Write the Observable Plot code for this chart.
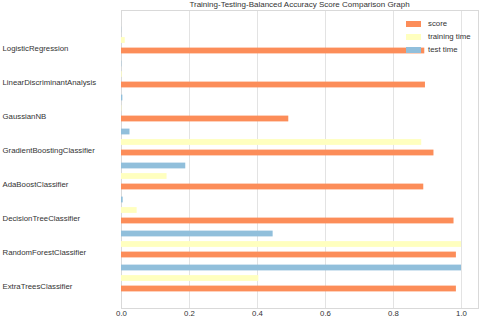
<!DOCTYPE html>
<html><head><meta charset="utf-8">
<script src="https://cdn.jsdelivr.net/npm/d3@7"></script>
<script src="https://cdn.jsdelivr.net/npm/@observablehq/plot@0.6"></script>
<style>
body{margin:0;background:#fff;}
#wrap{position:relative;width:480px;height:320px;font-family:"Liberation Sans",Arial,sans-serif;color:#333;}
#wrap svg{position:absolute;left:0;top:0;}
#title{position:absolute;left:121px;width:357px;top:0;text-align:center;font-size:8px;line-height:10px;z-index:2;}
#legend{position:absolute;left:406px;top:17px;font-size:7.8px;z-index:2;}
.row{display:flex;align-items:center;height:13px;}
.sw{width:15px;height:6px;margin-right:7px;}
</style></head><body><div id="wrap"><div id="title"></div><div id="legend"></div></div>
<script>
const titleText = "Training-Testing-Balanced Accuracy Score Comparison Graph";
const classifiers = ["LogisticRegression","LinearDiscriminantAnalysis","GaussianNB","GradientBoostingClassifier","AdaBoostClassifier","DecisionTreeClassifier","RandomForestClassifier","ExtraTreesClassifier"];
const seriesNames = ["score","training time","test time"];
const seriesColors = ["#fc8d59","#ffffbf","#91bfdb"];
const score = [0.892, 0.894, 0.492, 0.919, 0.889, 0.978, 0.985, 0.985];
const trainingTime = [0.011, 0.002, 0.001, 0.883, 0.134, 0.046, 1.0, 0.404];
const testTime = [0.0005, 0.001, 0.004, 0.025, 0.189, 0.005, 0.446, 1.0];
const xTicks = [0, 0.2, 0.4, 0.6, 0.8, 1.0];

const seriesValues = {"score": score, "training time": trainingTime, "test time": testTime};
const rows = [];
for (const s of seriesNames) classifiers.forEach((c, i) => rows.push({clf: c, series: s, value: seriesValues[s][i]}));
const of = s => rows.filter(d => d.series === s);

const chart = Plot.plot({
  width: 480, height: 320,
  marginLeft: 121, marginRight: 2, marginTop: 10, marginBottom: 12,
  style: {fontFamily: "Liberation Sans, Arial, sans-serif", fontSize: "7.8px", color: "#333", background: "transparent"},
  x: {domain: [0, 1.05], axis: null},
  y: {domain: classifiers, paddingInner: 0, paddingOuter: 0.303, axis: null},
  color: {domain: seriesNames, range: seriesColors},
  marks: [
    Plot.gridX(xTicks, {stroke: "#e3e3e3", strokeOpacity: 1}),
    Plot.frame({stroke: "#d9d9d9"}),
    Plot.barX(of("test time"), {x: "value", y: "clf", fill: "series", insetTop: 3.6, insetBottom: 24.6}),
    Plot.barX(of("training time"), {x: "value", y: "clf", fill: "series", insetTop: 14.1, insetBottom: 14.1}),
    Plot.barX(of("score"), {x: "value", y: "clf", fill: "series", insetTop: 24.6, insetBottom: 3.6}),
    Plot.axisX(xTicks, {tickSize: 0, tickPadding: 2, tickFormat: d3.format(".1f"), label: null}),
    Plot.axisY({tickSize: 0, tickPadding: 0, textAnchor: "start", dx: -119, dy: 8, label: null})
  ]
});
const wrap = document.getElementById("wrap");
wrap.insertBefore(chart, wrap.firstChild);
document.getElementById("title").textContent = titleText;
const legend = document.getElementById("legend");
seriesNames.forEach((s, i) => {
  const row = document.createElement("div"); row.className = "row";
  const sw = document.createElement("div"); sw.className = "sw"; sw.style.background = seriesColors[i];
  const t = document.createElement("span"); t.textContent = s;
  row.appendChild(sw); row.appendChild(t); legend.appendChild(row);
});
</script></body></html>
